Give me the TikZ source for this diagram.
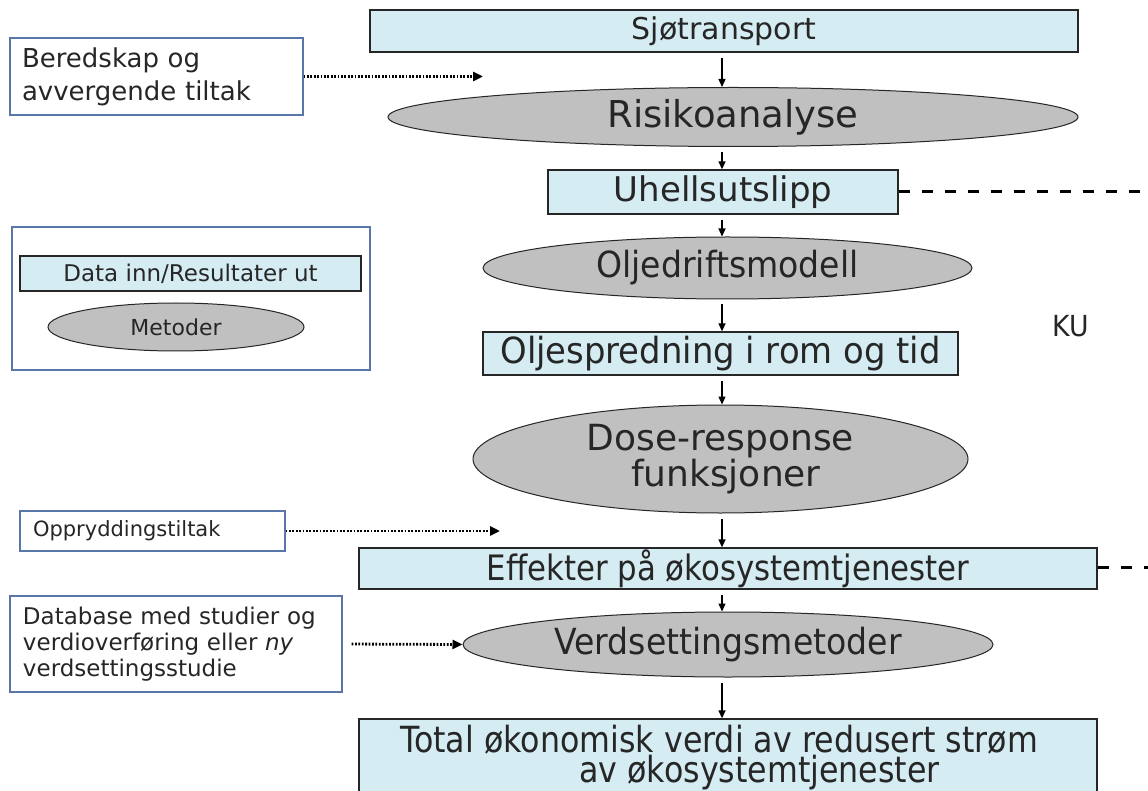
\documentclass[tikz,border=0pt]{standalone}
\usepackage{fontspec}
\setmainfont{DejaVu Sans}
\newfontfamily\condf[FakeStretch=0.88]{DejaVu Sans}
\newfontfamily\condg[FakeStretch=0.92]{DejaVu Sans}
\newfontfamily\condh[FakeStretch=0.94]{DejaVu Sans}
\usetikzlibrary{shapes.geometric,arrows.meta}
\definecolor{boxblue}{HTML}{D4ECF2}
\definecolor{ellgray}{HTML}{C0C0C0}
\definecolor{sideblue}{HTML}{5876A8}
\definecolor{txt}{HTML}{262626}
\tikzset{
  databox/.style={rectangle, draw=black!85, line width=1.3pt, fill=boxblue, inner sep=0pt, text=txt},
  methell/.style={ellipse, draw=black!85, line width=1pt, fill=ellgray, inner sep=0pt, text=txt},
  sidebox/.style={rectangle, draw=sideblue, line width=1.2pt, fill=white, inner sep=0pt, text=txt},
  arr/.style={-{Triangle[length=8pt,width=7pt]}, line width=1.3pt, shorten <=5pt},
  dotarr/.style={-{Triangle[length=10pt,width=9pt]}, line width=2.8pt, dash pattern=on 1.8pt off 1.6pt},
  dashline/.style={line width=3pt, dash pattern=on 11pt off 12pt},
}
\begin{document}
\begin{tikzpicture}[x=1pt,y=-1pt]
\useasboundingbox (0,0) rectangle (1148,791);
\coordinate (spine) at (722,0);
% main chain
\node[databox, minimum width=708, minimum height=42, font=\fontsize{30}{34}\selectfont] (sjo) at (724,31)
  {Sjøtransport};
\node[methell, minimum width=690, minimum height=59, font=\fontsize{37}{42}\selectfont] (risk) at (733,117)
  {Risikoanalyse};
\node[databox, minimum width=350, minimum height=44, font=\fontsize{34}{38}\selectfont] (uhell) at (723,192)
  {Uhellsutslipp};
\node[methell, minimum width=489, minimum height=62, font={\condg\fontsize{36}{40}\selectfont}] (olje) at (727.5,268)
  {Oljedriftsmodell};
\node[databox, minimum width=475, minimum height=43, font={\condh\fontsize{36}{40}\selectfont}] (spred) at (720.5,353.5)
  {Oljespredning i rom og tid};
\node[methell, minimum width=495, minimum height=108, align=center, font=\fontsize{36}{31}\selectfont] (dose) at (720.5,459)
  {Dose-response\\\hspace*{0.3em}funksjoner};
\node[databox, minimum width=738, minimum height=41, font={\condf\fontsize{35}{38}\selectfont}] (eff) at (728,568.5)
  {Effekter på økosystemtjenester};
\node[methell, minimum width=530, minimum height=65, font={\condg\fontsize{36}{40}\selectfont}] (verd) at (728,644.5)
  {Verdsettingsmetoder};
\node[databox, minimum width=738, minimum height=78, align=center, font={\condf\fontsize{36}{30}\selectfont}] (total) at (728,758)
  {Total økonomisk verdi av redusert strøm\hspace*{0.5em}\\\hspace*{1.75em}av økosystemtjenester};
\node[text=txt, inner sep=0pt, font={\condg\fontsize{29}{33}\selectfont}] (ku) at (1071,326) {KU};
% arrows
\draw[arr] (sjo.south -| spine) -- (risk.north -| spine);
\draw[arr] (risk.south -| spine) -- (uhell.north -| spine);
\draw[arr] (uhell.south -| spine) -- (olje.north -| spine);
\draw[arr] (olje.south -| spine) -- (spred.north -| spine);
\draw[arr] (spred.south -| spine) -- (dose.north -| spine);
\draw[arr] (dose.south -| spine) -- (eff.north -| spine);
\draw[arr] (eff.south -| spine) -- (verd.north -| spine);
\draw[arr] (verd.south -| spine) -- (total.north -| spine);
% dashed lines to the right
\coordinate (kuA) at (1148,192);
\coordinate (kuB) at (1148,567);
\draw[dashline] (uhell.east) -- (kuA);
\draw[dashline] (eff.east |- kuB) -- (kuB);
% side boxes
\node[sidebox, minimum width=293, minimum height=77, text width=269, align=left, font=\fontsize{26}{33}\selectfont] (bered) at (156.5,76.5)
  {Beredskap og\\avvergende tiltak};
\coordinate (beredtip) at (483,76.5);
\draw[dotarr] (bered.east) -- (beredtip);
\node[sidebox, minimum width=265, minimum height=40, text width=239, align=left, font=\fontsize{21}{24}\selectfont] (oppr) at (152.5,531)
  {Oppryddingstiltak};
\coordinate (opprtip) at (500,531);
\draw[dotarr] (oppr.east) -- (opprtip);
\node[sidebox, minimum width=332, minimum height=96, text width=306, align=left, font=\fontsize{23}{26}\selectfont] (db) at (176,644)
  {Database med studier og\\verdioverføring eller \textit{ny}\\verdsettingsstudie};
\draw[dotarr, shorten <=9pt] (db.east) -- (verd.west);
% legend
\node[sidebox, minimum width=358, minimum height=143] (legend) at (191,298.5) {};
\node[databox, line width=1.1pt, minimum width=341, minimum height=35, font=\fontsize{23}{27}\selectfont] (legdata) at (190.5,273.5)
  {Data inn/Resultater ut};
\node[methell, minimum width=256, minimum height=48, font=\fontsize{22}{26}\selectfont] (legmet) at (176,327)
  {Metoder};
\end{tikzpicture}
\end{document}
